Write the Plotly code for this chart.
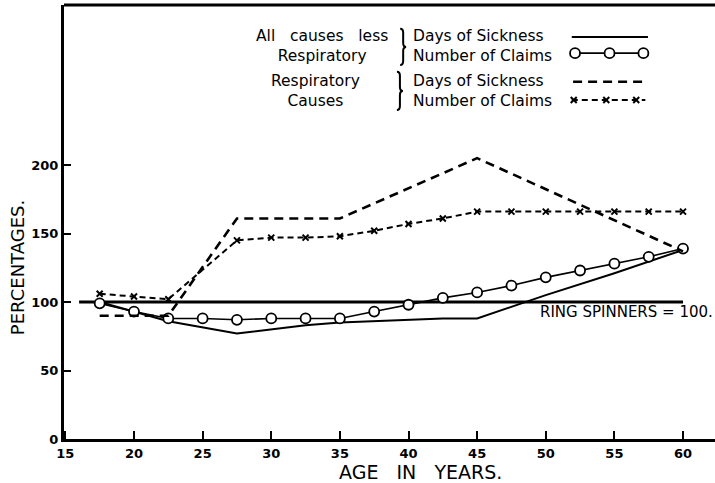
import plotly.graph_objects as go

# ---- data ----
ring_x = [16, 60]
ring_y = [100, 100]

days_all_x = [17.5, 20, 22.5, 27.5, 30, 32.5, 35, 37.5, 40, 42.5, 45, 50, 55, 60]
days_all_y = [100, 93, 86, 77, 80, 83, 85, 86, 87, 88, 88, 105, 121, 138]

claims_all_x = [17.5, 20, 22.5, 25, 27.5, 30, 32.5, 35, 37.5, 40, 42.5, 45,
                47.5, 50, 52.5, 55, 57.5, 60]
claims_all_y = [99, 93, 88, 88, 87, 88, 88, 88, 93, 98, 103, 107,
                112, 118, 123, 128, 133, 139]

days_resp_x = [17.5, 20, 22.5, 27.5, 35, 45, 60]
days_resp_y = [90, 90, 90, 161, 161, 205, 137]

claims_resp_x = [17.5, 20, 22.5, 27.5, 30, 32.5, 35, 37.5, 40, 42.5, 45,
                 47.5, 50, 52.5, 55, 57.5, 60]
claims_resp_y = [106, 104, 102, 145, 147, 147, 148, 152, 157, 161, 166,
                 166, 166, 166, 166, 166, 166]

x_ticks = [15, 20, 25, 30, 35, 40, 45, 50, 55, 60]
y_ticks = [0, 50, 100, 150, 200]

# legend sample positions (overlay axis 0..1)
leg_solid_x = [0.780, 0.897]
leg_circ_x = [0.785, 0.838, 0.890]
leg_dash_x = [0.782, 0.889]
leg_cross_x = [0.783, 0.833, 0.879]
leg_cross_line_x = [0.780, 0.893]

FONT = "DejaVu Sans"
BLACK = "#000000"
PW, PH = 651.0, 434.0  # plot area size in px

fig = go.Figure()

fig.add_trace(go.Scatter(x=ring_x, y=ring_y, mode="lines",
                         line=dict(color=BLACK, width=3), showlegend=False))
fig.add_trace(go.Scatter(x=days_all_x, y=days_all_y, mode="lines",
                         line=dict(color=BLACK, width=2), showlegend=False))
fig.add_trace(go.Scatter(x=claims_all_x, y=claims_all_y, mode="lines+markers",
                         line=dict(color=BLACK, width=1.6),
                         marker=dict(symbol="circle", size=10, color="white",
                                     line=dict(color=BLACK, width=1.8)),
                         showlegend=False))
fig.add_trace(go.Scatter(x=days_resp_x, y=days_resp_y, mode="lines",
                         line=dict(color=BLACK, width=2.6, dash="9px,6px"),
                         showlegend=False))
fig.add_trace(go.Scatter(x=claims_resp_x, y=claims_resp_y, mode="lines+markers",
                         line=dict(color=BLACK, width=2, dash="6px,4px"),
                         marker=dict(symbol="x-thin", size=6,
                                     line=dict(color=BLACK, width=2)),
                         showlegend=False))

# legend samples on an overlay axis
fig.add_trace(go.Scatter(x=leg_solid_x, y=[0.926, 0.926], mode="lines",
                         xaxis="x2", yaxis="y2",
                         line=dict(color=BLACK, width=2), showlegend=False))
fig.add_trace(go.Scatter(x=leg_circ_x, y=[0.889] * 3, mode="lines+markers",
                         xaxis="x2", yaxis="y2",
                         line=dict(color=BLACK, width=1.6),
                         marker=dict(symbol="circle", size=10, color="white",
                                     line=dict(color=BLACK, width=1.8)),
                         showlegend=False))
fig.add_trace(go.Scatter(x=leg_dash_x, y=[0.823, 0.823], mode="lines",
                         xaxis="x2", yaxis="y2",
                         line=dict(color=BLACK, width=2.6, dash="9px,6px"),
                         showlegend=False))
fig.add_trace(go.Scatter(x=leg_cross_line_x, y=[0.781, 0.781], mode="lines",
                         xaxis="x2", yaxis="y2",
                         line=dict(color=BLACK, width=2, dash="6px,4px"),
                         showlegend=False))
fig.add_trace(go.Scatter(x=leg_cross_x, y=[0.781] * 3, mode="markers",
                         xaxis="x2", yaxis="y2",
                         marker=dict(symbol="x-thin", size=6,
                                     line=dict(color=BLACK, width=2)),
                         showlegend=False))

LSIZE = 15.5


def ann(text, x, y, size=LSIZE, xanchor="left", align="left"):
    fig.add_annotation(text=text, x=x, y=y, xref="x2", yref="y2",
                       xanchor=xanchor, yanchor="middle", align=align,
                       showarrow=False, borderpad=0,
                       font=dict(family=FONT, size=size, color=BLACK))


SP = "\u00a0\u00a0 "
# legend texts (paper-like coords: px=(X-64)/651, py=(439-Y)/434)
ann("All" + SP + "causes" + SP + "less<br>Respiratory", 0.396, 0.9065,
    xanchor="center", align="center")
ann("Respiratory<br>Causes", 0.386, 0.801, xanchor="center", align="center")
ann("Days of Sickness<br>Number of Claims", 0.5345, 0.9065)
ann("Days of Sickness<br>Number of Claims", 0.5345, 0.803)


def brace_path(xc, ytop, ybot):
    dx = 1.0 / PW
    dy = 1.0 / PH
    ym = (ytop + ybot) / 2
    p = []
    p.append(f"M {xc - 3*dx},{ytop}")
    p.append(f"Q {xc},{ytop} {xc},{ytop - 4*dy}")
    p.append(f"L {xc},{ym + 4*dy}")
    p.append(f"Q {xc},{ym} {xc + 3*dx},{ym}")
    p.append(f"Q {xc},{ym} {xc},{ym - 4*dy}")
    p.append(f"L {xc},{ybot + 4*dy}")
    p.append(f"Q {xc},{ybot} {xc - 3*dx},{ybot}")
    return " ".join(p)


fig.add_shape(type="path", xref="paper", yref="paper",
              path=brace_path(0.521, 0.945, 0.862),
              line=dict(color=BLACK, width=2))
fig.add_shape(type="path", xref="paper", yref="paper",
              path=brace_path(0.516, 0.846, 0.758),
              line=dict(color=BLACK, width=2))

# ring spinners label
fig.add_annotation(text="RING SPINNERS = 100.", x=49.4, y=92.5, xref="x", yref="y",
                   xanchor="left", yanchor="middle", showarrow=False,
                   font=dict(family=FONT, size=15, color=BLACK))

# axis titles
fig.add_annotation(text="AGE" + SP + "IN" + SP + "YEARS.", x=0.548, y=-0.076,
                   xref="paper", yref="paper", xanchor="center", yanchor="middle",
                   showarrow=False, font=dict(family=FONT, size=19, color=BLACK))
fig.add_annotation(text="PERCENTAGES.", x=-0.072, y=0.394,
                   xref="paper", yref="paper", xanchor="center", yanchor="middle",
                   textangle=-90, showarrow=False,
                   font=dict(family=FONT, size=18, color=BLACK))

# top frame line
fig.add_shape(type="line", xref="paper", yref="paper", x0=0, x1=1, y0=1, y1=1,
              line=dict(color=BLACK, width=3))

fig.update_layout(
    width=715, height=483,
    margin=dict(l=64, r=0, t=5, b=44),
    paper_bgcolor="white", plot_bgcolor="white",
    showlegend=False,
    xaxis=dict(range=[14.9, 62.33], tickvals=x_ticks, ticktext=[str(v) for v in x_ticks],
               ticks="inside", ticklen=8, tickwidth=2, tickcolor=BLACK,
               showline=True, linewidth=3, linecolor=BLACK,
               showgrid=False, zeroline=False,
               tickfont=dict(family=FONT, size=13, color=BLACK, weight="bold")),
    yaxis=dict(range=[0, 316.8], tickvals=y_ticks, ticktext=[str(v) for v in y_ticks],
               ticks="inside", ticklen=7, tickwidth=2, tickcolor=BLACK,
               showline=True, linewidth=3, linecolor=BLACK,
               showgrid=False, zeroline=False,
               tickfont=dict(family=FONT, size=13, color=BLACK, weight="bold")),
    xaxis2=dict(range=[0, 1], overlaying="x", visible=False, fixedrange=True),
    yaxis2=dict(range=[0, 1], overlaying="y", visible=False, fixedrange=True),
)

fig.write_html("out.html", config={"displayModeBar": False},
               post_script="document.body.style.margin='0';document.body.style.overflow='hidden';")
